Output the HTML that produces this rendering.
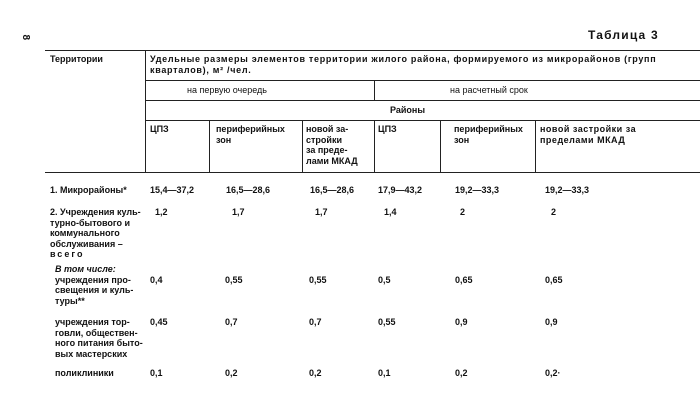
<!DOCTYPE html>
<html><head><meta charset="utf-8"><style>
body{margin:0;background:#fff;}
#c{position:relative;width:700px;height:420px;overflow:hidden;font-family:"Liberation Sans",sans-serif;font-size:9px;color:#111;font-weight:bold;}
.t{position:absolute;white-space:nowrap;line-height:10.5px;}
.h{position:absolute;background:#222;height:1px;}
.v{position:absolute;background:#222;width:1px;}
</style></head><body><div id="c">
<div class="t" style="left:22px;top:32px;font-size:10px;transform:rotate(90deg)">8</div>
<div class="t" style="left:588px;top:30px;font-size:12px;letter-spacing:1.2px">Таблица 3</div>

<div class="h" style="left:45px;top:50px;width:655px"></div>
<div class="h" style="left:145px;top:80px;width:555px"></div>
<div class="h" style="left:145px;top:100px;width:555px"></div>
<div class="h" style="left:145px;top:120px;width:555px"></div>
<div class="h" style="left:45px;top:172px;width:655px"></div>
<div class="v" style="left:145px;top:50px;height:122px"></div>
<div class="v" style="left:209px;top:120px;height:52px"></div>
<div class="v" style="left:302px;top:120px;height:52px"></div>
<div class="v" style="left:374px;top:80px;height:20px"></div>
<div class="v" style="left:374px;top:120px;height:52px"></div>
<div class="v" style="left:440px;top:120px;height:52px"></div>
<div class="v" style="left:535px;top:120px;height:52px"></div>

<div class="t" style="left:50px;top:54px">Территории</div>
<div class="t" style="left:150px;top:54px;letter-spacing:0.7px">Удельные размеры элементов территории жилого района, формируемого из микрорайонов (групп<br>кварталов), м² /чел.</div>
<div class="t" style="left:187px;top:85px;font-weight:normal">на первую очередь</div>
<div class="t" style="left:450px;top:85px;font-weight:normal">на расчетный срок</div>
<div class="t" style="left:390px;top:105px">Районы</div>
<div class="t" style="left:150px;top:124px">ЦПЗ</div>
<div class="t" style="left:216px;top:124px">периферийных<br>зон</div>
<div class="t" style="left:306px;top:124px">новой за-<br>стройки<br>за преде-<br>лами МКАД</div>
<div class="t" style="left:378px;top:124px">ЦПЗ</div>
<div class="t" style="left:454px;top:124px">периферийных<br>зон</div>
<div class="t" style="left:540px;top:124px;letter-spacing:0.5px">новой застройки за<br>пределами МКАД</div>

<div class="t" style="left:50px;top:185px">1. Микрорайоны*</div>
<div class="t" style="left:150px;top:185px">15,4—37,2</div>
<div class="t" style="left:226px;top:185px">16,5—28,6</div>
<div class="t" style="left:310px;top:185px">16,5—28,6</div>
<div class="t" style="left:378px;top:185px">17,9—43,2</div>
<div class="t" style="left:455px;top:185px">19,2—33,3</div>
<div class="t" style="left:545px;top:185px">19,2—33,3</div>

<div class="t" style="left:50px;top:207px">2. Учреждения куль-<br>турно-бытового и<br>коммунального<br>обслуживания –<br><span style="letter-spacing:2px">всего</span></div>
<div class="t" style="left:155px;top:207px">1,2</div>
<div class="t" style="left:232px;top:207px">1,7</div>
<div class="t" style="left:315px;top:207px">1,7</div>
<div class="t" style="left:384px;top:207px">1,4</div>
<div class="t" style="left:460px;top:207px">2</div>
<div class="t" style="left:551px;top:207px">2</div>

<div class="t" style="left:55px;top:264px"><i>В том числе:</i><br>учреждения про-<br>свещения и куль-<br>туры**</div>
<div class="t" style="left:150px;top:275px">0,4</div>
<div class="t" style="left:225px;top:275px">0,55</div>
<div class="t" style="left:309px;top:275px">0,55</div>
<div class="t" style="left:378px;top:275px">0,5</div>
<div class="t" style="left:455px;top:275px">0,65</div>
<div class="t" style="left:545px;top:275px">0,65</div>

<div class="t" style="left:55px;top:317px">учреждения тор-<br>говли, обществен-<br>ного питания быто-<br>вых мастерских</div>
<div class="t" style="left:150px;top:317px">0,45</div>
<div class="t" style="left:225px;top:317px">0,7</div>
<div class="t" style="left:309px;top:317px">0,7</div>
<div class="t" style="left:378px;top:317px">0,55</div>
<div class="t" style="left:455px;top:317px">0,9</div>
<div class="t" style="left:545px;top:317px">0,9</div>

<div class="t" style="left:55px;top:368px">поликлиники</div>
<div class="t" style="left:150px;top:368px">0,1</div>
<div class="t" style="left:225px;top:368px">0,2</div>
<div class="t" style="left:309px;top:368px">0,2</div>
<div class="t" style="left:378px;top:368px">0,1</div>
<div class="t" style="left:455px;top:368px">0,2</div>
<div class="t" style="left:545px;top:368px">0,2·</div>
</div></body></html>
